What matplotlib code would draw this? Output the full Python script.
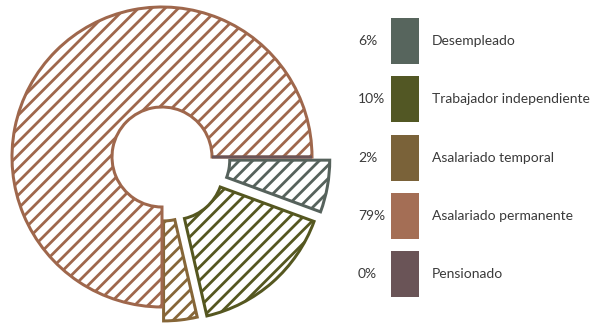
import matplotlib
matplotlib.use("Agg")
import matplotlib.pyplot as plt
from matplotlib.patches import Rectangle

# ---- data ----
categories = ["Desempleado", "Trabajador independiente", "Asalariado temporal",
              "Asalariado permanente", "Pensionado"]
pct_labels = ["6%", "10%", "2%", "79%", "0%"]
# slice sizes as drawn in the picture (percent of circle)
slice_values = [5.6, 15.8, 3.6, 75.0, 0.0]

legend_colors = ["#57655d", "#525724", "#7a6239", "#a46e55", "#6a5457"]
edge_colors = ["#56625c", "#555720", "#866638", "#9f674c", "#6a5457"]

DPI = 80
W, H = 591, 325
plt.rcParams["hatch.linewidth"] = 2.5
plt.rcParams["font.family"] = ["Lato", "DejaVu Sans"]

fig = plt.figure(figsize=(W / DPI, H / DPI), dpi=DPI)
ax = fig.add_axes([0, 0, 1, 1])

cx, cy, R = 162, H - 157, 150
wedges, _ = ax.pie(slice_values, radius=R, center=(cx, cy), startangle=0,
                   counterclock=False, explode=[18, 17, 14, 0, 0],
                   wedgeprops=dict(width=100, linewidth=2.7, facecolor="white"),
                   normalize=True)
for w, ec in zip(wedges, edge_colors):
    w.set_edgecolor(ec)
    w.set_hatch("//")

ax.set_xlim(0, W)
ax.set_ylim(0, H)
ax.set_aspect("equal")
ax.axis("off")

# ---- legend ----
top, step = 41, 58.3
for i, (cat, pct, col) in enumerate(zip(categories, pct_labels, legend_colors)):
    yc = H - (top + i * step)
    ax.add_patch(Rectangle((391, yc - 23), 28, 46, facecolor=col, edgecolor="none"))
    ax.text(358, yc, pct, ha="left", va="center", fontsize=12.5, color="#3a3a3a")
    ax.text(432, yc, cat, ha="left", va="center", fontsize=12.5, color="#3a3a3a")

fig.savefig("out.png", dpi=DPI)
